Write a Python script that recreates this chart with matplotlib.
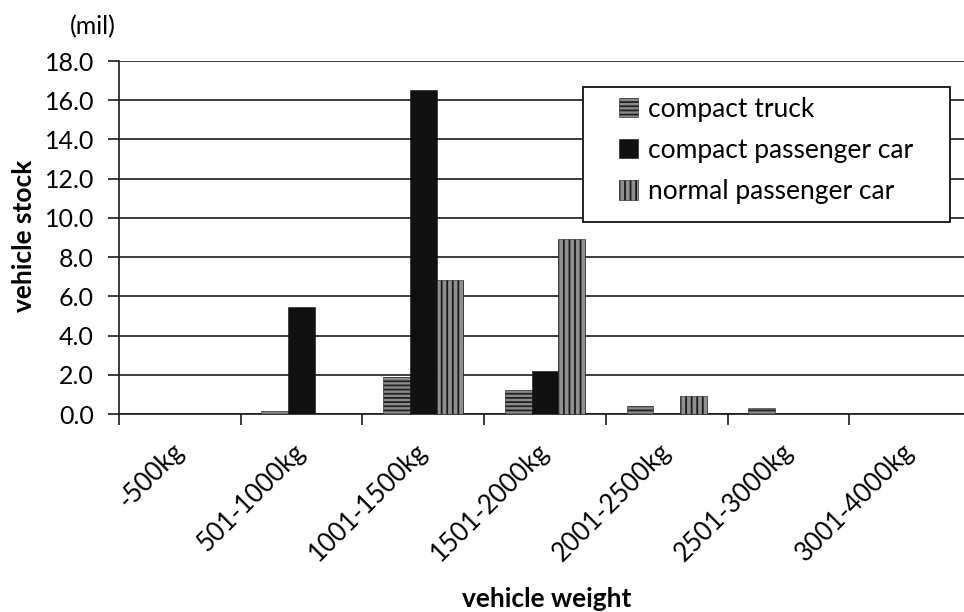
import numpy as np
import matplotlib.pyplot as plt
from matplotlib.patches import Rectangle
from matplotlib.ticker import FixedLocator, FormatStrFormatter

plt.rcParams['font.family'] = ['Lato', 'DejaVu Sans']
plt.rcParams['hatch.linewidth'] = 1.3

categories = ['-500kg', '501-1000kg', '1001-1500kg', '1501-2000kg',
              '2001-2500kg', '2501-3000kg', '3001-4000kg']
compact_truck = [0, 0.15, 1.9, 1.22, 0.4, 0.3, 0]
compact_passenger_car = [0, 5.45, 16.5, 2.2, 0, 0, 0]
normal_passenger_car = [0, 0, 6.85, 8.9, 0.93, 0, 0]
series_names = ['compact truck', 'compact passenger car', 'normal passenger car']

fig = plt.figure(figsize=(9.64, 6.12), dpi=100)
ax = fig.add_axes([0.1234, 0.3235, 0.884, 0.5768])

x = np.arange(len(categories))
w = 0.22
ax.bar(x - w, compact_truck, w, facecolor='#8a8a8a', edgecolor='#222222',
       hatch='----', linewidth=0.4, label=series_names[0], zorder=3)
ax.bar(x, compact_passenger_car, w, facecolor='#111111', edgecolor='#111111',
       linewidth=0.4, label=series_names[1], zorder=3)
ax.bar(x + w, normal_passenger_car, w, facecolor='#8f8f8f', edgecolor='#1a1a1a',
       hatch='|||', linewidth=0.4, label=series_names[2], zorder=3)

ax.set_xlim(-0.5, len(categories) - 0.5)
ax.set_ylim(0, 18)
ax.set_yticks(np.arange(0, 18.1, 2))
ax.yaxis.set_major_formatter(FormatStrFormatter('%.1f'))
ax.yaxis.grid(True, color='#1a1a1a', linewidth=1.2, zorder=0)
ax.set_axisbelow(True)

ax.set_xticks(x)
ax.set_xticklabels(categories, rotation=45, ha='right', va='center',
                   rotation_mode='anchor', fontsize=18.5)
ax.xaxis.set_minor_locator(FixedLocator(np.arange(-0.5, len(categories), 1)))
ax.tick_params(axis='x', which='major', length=0, pad=24)
ax.tick_params(axis='x', which='minor', length=8, width=1.2, color='#1a1a1a')
ax.tick_params(axis='y', length=8, width=1.2, color='#1a1a1a', labelsize=18, pad=10)

for side in ['top', 'right']:
    ax.spines[side].set_visible(False)
for side in ['left', 'bottom']:
    ax.spines[side].set_color('#1a1a1a')
    ax.spines[side].set_linewidth(1.2)

fig.text(0.025, 1 - 236 / 612, 'vehicle stock', fontsize=19, fontweight='bold',
         rotation=90, ha='center', va='center')
fig.text(0.5675, 0.002, 'vehicle weight', fontsize=19, fontweight='bold',
         ha='center', va='bottom')
fig.text(0.0965, 0.937, '(mil)', fontsize=18, ha='center', va='bottom')

# legend frame drawn as a plain box, entries placed inside it
fig.patches.append(Rectangle((583 / 964, 1 - 222 / 612), (950 - 583) / 964,
                             (222 - 87) / 612, transform=fig.transFigure,
                             facecolor='white', edgecolor='#111111',
                             linewidth=1.3, zorder=4))
leg = fig.legend(*ax.get_legend_handles_labels(), loc='upper left',
                 bbox_to_anchor=(608 / 964, 1 - 86 / 612), fontsize=19,
                 frameon=False, handlelength=0.75, handleheight=0.75,
                 handletextpad=0.35, labelspacing=0.62, borderpad=0.4,
                 borderaxespad=0)
leg.set_zorder(5)

fig.savefig('out.png', dpi=100, facecolor='white')
